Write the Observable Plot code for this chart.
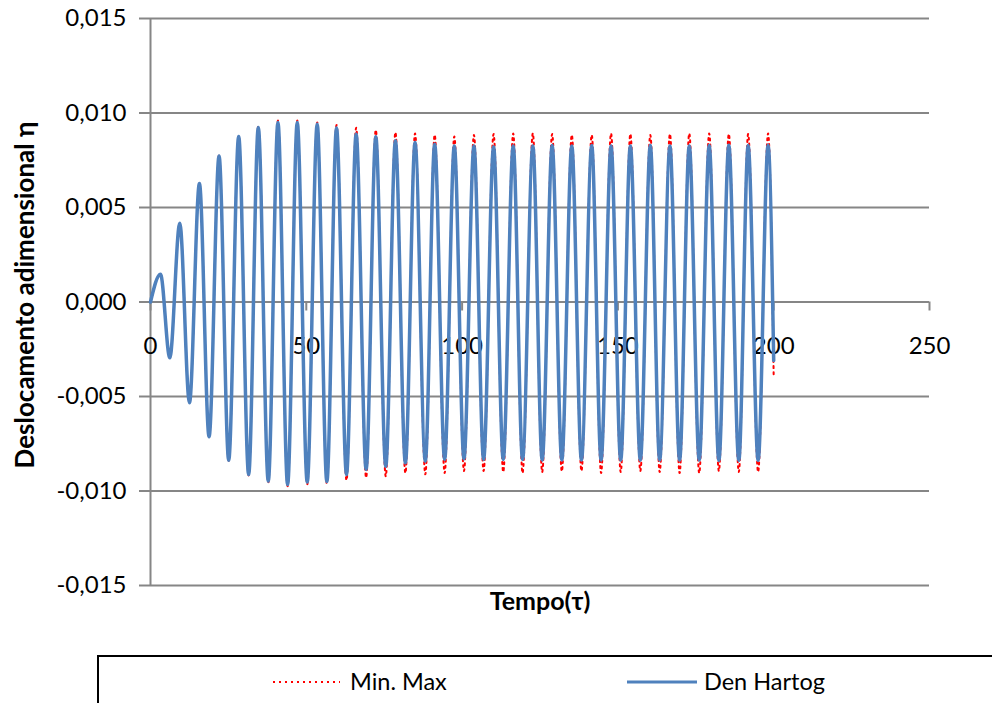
<!DOCTYPE html>
<html>
<head>
<meta charset="utf-8">
<script src="https://cdn.jsdelivr.net/npm/d3@7"></script>
<script src="https://cdn.jsdelivr.net/npm/@observablehq/plot@0.6"></script>
<style>
  html, body { margin: 0; padding: 0; background: #fff; overflow: hidden; }
  #wrap { position: relative; width: 992px; height: 703px; overflow: hidden; font-family: Lato, sans-serif; }
  #chart { position: absolute; left: 0; top: 0; }
  #legend { position: absolute; left: 0; top: 650px; }
</style>
</head>
<body>
<div id="wrap">
  <div id="chart"></div>
  <div id="legend"></div>
</div>
<script>
// Axis ticks
const xTicks = [0, 50, 100, 150, 200, 250];
const yTicks = [-0.015, -0.010, -0.005, 0, 0.005, 0.010, 0.015];

// Times (τ) of the successive maxima and minima of the response
const peakTime = [3.2, 9.4, 15.7, 22.0, 28.3, 34.6, 40.9, 47.1, 53.5, 59.7,
  66.0, 72.3, 78.6, 84.9, 91.2, 97.5, 103.8, 110.1, 116.4, 122.7,
  128.9, 135.2, 141.6, 147.8, 154.0, 160.4, 166.7, 172.9, 179.3, 185.6,
  191.8, 198.2];
const troughTime = [6.2, 12.5, 18.8, 25.1, 31.5, 37.8, 44.0, 50.3, 56.6, 62.9,
  69.2, 75.5, 81.8, 88.2, 94.4, 100.6, 106.9, 113.2, 119.4, 125.7,
  132.0, 138.3, 144.6, 150.9, 157.2, 163.4, 169.8, 176.1, 182.4, 188.8,
  195.0];
const startTime = 0;
const endTime = 200;

// Den Hartog tuning: maxima, minima, and start / end values
const hartogPeak = [0.00147, 0.00417, 0.00627, 0.00773, 0.00876, 0.00923, 0.00950, 0.00950, 0.00941, 0.00920,
  0.00888, 0.00874, 0.00853, 0.00844, 0.00835, 0.00826, 0.00826, 0.00821, 0.00826, 0.00826,
  0.00828, 0.00826, 0.00828, 0.00826, 0.00826, 0.00828, 0.00826, 0.00826, 0.00828, 0.00830,
  0.00828, 0.00830];
const hartogTrough = [-0.00295, -0.00533, -0.00713, -0.00837, -0.00913, -0.00948, -0.00966, -0.00953, -0.00950, -0.00913,
  -0.00886, -0.00869, -0.00851, -0.00842, -0.00833, -0.00830, -0.00833, -0.00833, -0.00833, -0.00836,
  -0.00836, -0.00836, -0.00836, -0.00836, -0.00836, -0.00836, -0.00836, -0.00836, -0.00838, -0.00838,
  -0.00838];
const hartogStart = 0;
const hartogEnd = -0.0031;

// Min. Max tuning: maxima, minima, and start / end values
const minMaxPeak = [0.00147, 0.00417, 0.00627, 0.00775, 0.00880, 0.00930, 0.00960, 0.00960, 0.00950, 0.00937,
  0.00922, 0.00910, 0.00897, 0.00892, 0.00884, 0.00876, 0.00884, 0.00889, 0.00892, 0.00892,
  0.00889, 0.00884, 0.00884, 0.00892, 0.00889, 0.00884, 0.00889, 0.00892, 0.00892, 0.00889,
  0.00889, 0.00892];
const minMaxTrough = [-0.00295, -0.00533, -0.00713, -0.00840, -0.00918, -0.00955, -0.00975, -0.00965, -0.00960, -0.00943,
  -0.00929, -0.00922, -0.00905, -0.00912, -0.00905, -0.00894, -0.00894, -0.00899, -0.00905, -0.00900,
  -0.00896, -0.00894, -0.00905, -0.00900, -0.00894, -0.00900, -0.00905, -0.00905, -0.00894, -0.00899,
  -0.00899];
const minMaxStart = 0;
const minMaxEnd = -0.0040;

// Series labels and colours
const seriesNames = ["Min. Max", "Den Hartog"];
const seriesColors = ["#FF0000", "#4F81BD"];

// Builds one time history: start, alternating maxima/minima, end
function history(peaks, troughs, start, end) {
  const rows = [{t: startTime, eta: start}];
  peakTime.forEach((t, i) => {
    rows.push({t, eta: peaks[i]});
    if (i < troughTime.length) rows.push({t: troughTime[i], eta: troughs[i]});
  });
  rows.push({t: endTime, eta: end});
  return rows;
}

const minMax = history(minMaxPeak, minMaxTrough, minMaxStart, minMaxEnd);
const denHartog = history(hartogPeak, hartogTrough, hartogStart, hartogEnd);

const fmtY = d3.formatLocale({decimal: ",", thousands: ".", grouping: [3], currency: ["", ""], minus: "-"}).format(".3f");
const grid = "#868686";
const font = "Lato, sans-serif";

const chart = Plot.plot({
  width: 992,
  height: 650,
  marginLeft: 150,
  marginRight: 63,
  marginTop: 18,
  marginBottom: 65,
  x: {domain: [0, 250], axis: null},
  y: {domain: [-0.015, 0.015], axis: null},
  style: {fontFamily: font, fontSize: "24px", color: "#000", background: "#fff", overflow: "visible"},
  marks: [
    // horizontal gridlines
    Plot.ruleY(yTicks, {stroke: grid, strokeWidth: 2}),
    // y tick marks, outside the axis
    Plot.ruleY(yTicks, {x1: 0, x2: 0, insetLeft: -11, stroke: grid, strokeWidth: 2}),
    // vertical axis line
    Plot.ruleX([0], {stroke: grid, strokeWidth: 2}),
    // x tick marks hanging below the zero line
    Plot.ruleX(xTicks, {y1: 0, y2: 0, insetBottom: -9, stroke: grid, strokeWidth: 2}),
    // tick labels
    Plot.text(yTicks, {x: 0, y: d => d, text: d => fmtY(d), textAnchor: "end", dx: -24, fontSize: 24}),
    Plot.text(xTicks, {x: d => d, y: 0, text: d => String(d), dy: 44, fontSize: 24}),
    // response curves
    Plot.line(minMax, {x: "t", y: "eta", curve: "monotone-x", stroke: seriesColors[0], strokeWidth: 2, strokeDasharray: "2,4"}),
    Plot.line(denHartog, {x: "t", y: "eta", curve: "monotone-x", stroke: seriesColors[1], strokeWidth: 3.5}),
    // axis titles
    Plot.text(["Tempo(τ)"], {text: d => d, frameAnchor: "bottom", dy: 24, fontWeight: "bold", fontSize: 25}),
    Plot.text(["Deslocamento adimensional η"], {text: d => d, frameAnchor: "left", textAnchor: "middle", dx: -125, dy: -7, rotate: -90, fontWeight: "bold", fontSize: 26})
  ]
});
document.getElementById("chart").appendChild(chart);

// Legend box below the chart
const leg = d3.select("#legend").append("svg")
  .attr("width", 992).attr("height", 53)
  .style("font-family", font);
leg.append("rect")
  .attr("x", 98).attr("y", 6).attr("width", 1000).attr("height", 100)
  .attr("fill", "none").attr("stroke", "#000").attr("stroke-width", 2);
const items = [
  {x0: 273, x1: 340, tx: 350, dash: "2,4", width: 2},
  {x0: 627, x1: 697, tx: 704, dash: null, width: 3}
];
items.forEach((it, i) => {
  leg.append("line")
    .attr("x1", it.x0).attr("x2", it.x1).attr("y1", 32).attr("y2", 32)
    .attr("stroke", seriesColors[i]).attr("stroke-width", it.width)
    .attr("stroke-dasharray", it.dash);
  leg.append("text")
    .attr("x", it.tx).attr("y", 40)
    .attr("font-size", 23.5)
    .attr("fill", "#000")
    .text(seriesNames[i]);
});
</script>
</body>
</html>
